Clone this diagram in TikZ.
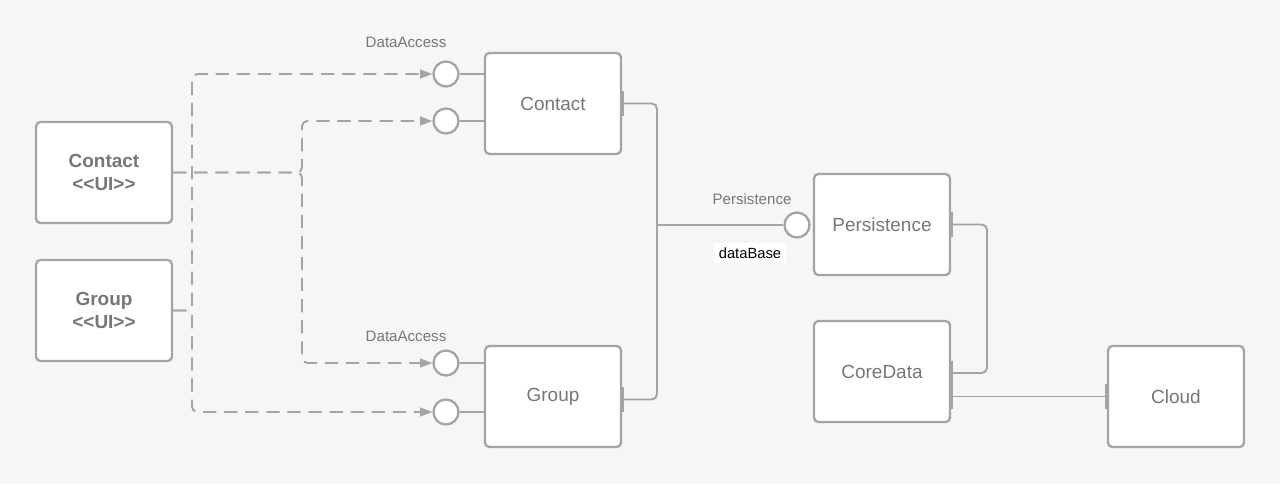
\documentclass[tikz,border=0pt]{standalone}
\usepackage{fontspec}
\setmainfont{Liberation Sans}
\usetikzlibrary{arrows.meta}
\definecolor{bggray}{HTML}{F6F6F6}
\definecolor{linegray}{HTML}{A4A4A4}
\definecolor{textgray}{HTML}{777777}
\begin{document}
\begin{tikzpicture}[x=0.02cm,y=-0.02cm,
  comp/.style={draw=linegray,line width=1.3pt,fill=white,rounded corners=2.5pt,
    minimum width=2.72cm,minimum height=2.02cm,align=center,text=textgray,
    font=\fontsize{10.8}{13}\selectfont},
  port/.style={circle,draw=linegray,line width=1.3pt,fill=white,minimum size=0.5cm,inner sep=0pt},
  dep/.style={draw=linegray,line width=1.1pt,dash pattern=on 7.5pt off 4.5pt,rounded corners=3pt,
    -{Triangle[length=7pt,width=5pt,fill=linegray]}},
  wire/.style={draw=linegray,line width=1.1pt,rounded corners=3pt},
  lbl/.style={text=textgray,font=\fontsize{8.6}{10}\selectfont}]
\fill[bggray] (0,0) rectangle (1280,484);
\useasboundingbox (0,0) rectangle (1280,484);
% components
\node[comp,font=\bfseries\fontsize{10.8}{13}\selectfont] (cui) at (104,172.5) {Contact\\{<}{<}UI{>}{>}};
\node[comp,font=\bfseries\fontsize{10.8}{13}\selectfont] (gui) at (104,310.5) {Group\\{<}{<}UI{>}{>}};
\node[comp] (c) at (553,103.5) {Contact};
\node[comp] (g) at (553,396.5) {Group};
\node[comp] (p) at (882,224.5) {Persistence};
\node[comp] (cd) at (882,371.5) {CoreData};
\node[comp] (cl) at (1176,396.5) {Cloud};
% provided interfaces
\node[port] (ca1) at (446,74) {};
\node[port] (ca2) at (446,121) {};
\node[port] (ga1) at (446,363) {};
\node[port] (ga2) at (446,412) {};
\node[port] (pp) at (797,225) {};
\node[lbl] at (406,42) {DataAccess};
\node[lbl] at (406,336) {DataAccess};
\node[lbl] at (752,199) {Persistence};
\draw[wire] (ca1.east) -- (c.west |- ca1);
\draw[wire] (ca2.east) -- (c.west |- ca2);
\draw[wire] (ga1.east) -- (g.west |- ga1);
\draw[wire] (ga2.east) -- (g.west |- ga2);
% dependencies
\coordinate (jc) at (302,0);
\coordinate (jg) at (192,0);
\draw[dep] (cui.east) -| (jc |- ca2) -- (ca2.west);
\draw[dep] (cui.east) -| (jc |- ga1) -- (ga1.west);
\draw[dep] (gui.east) -| (jg |- ca1) -- (ca1.west);
\draw[dep] (gui.east) -| (jg |- ga2) -- (ga2.west);
% assembly
\coordinate (jw) at (657,250);
\coordinate (jp) at (987,300);
\draw[wire,{Bar[width=14pt]}-{Bar[width=14pt]}] (c.east) -| (jw) |- ([yshift=-0.06cm]g.east);
\draw[wire] (jw |- pp) -- (pp.west);
\node[fill=white,inner sep=2.5pt,font=\fontsize{8.4}{10}\selectfont] at (750,253) {dataBase};
\draw[wire,{Bar[width=14pt]}-{Bar[width=14pt]}] (p.east) -| (jp) |- ([yshift=-0.03cm]cd.east);
\draw[wire,{Bar[width=14pt]}-{Bar[width=14pt]}] (cd.east |- cl.west) -- (cl.west);
\end{tikzpicture}
\end{document}
